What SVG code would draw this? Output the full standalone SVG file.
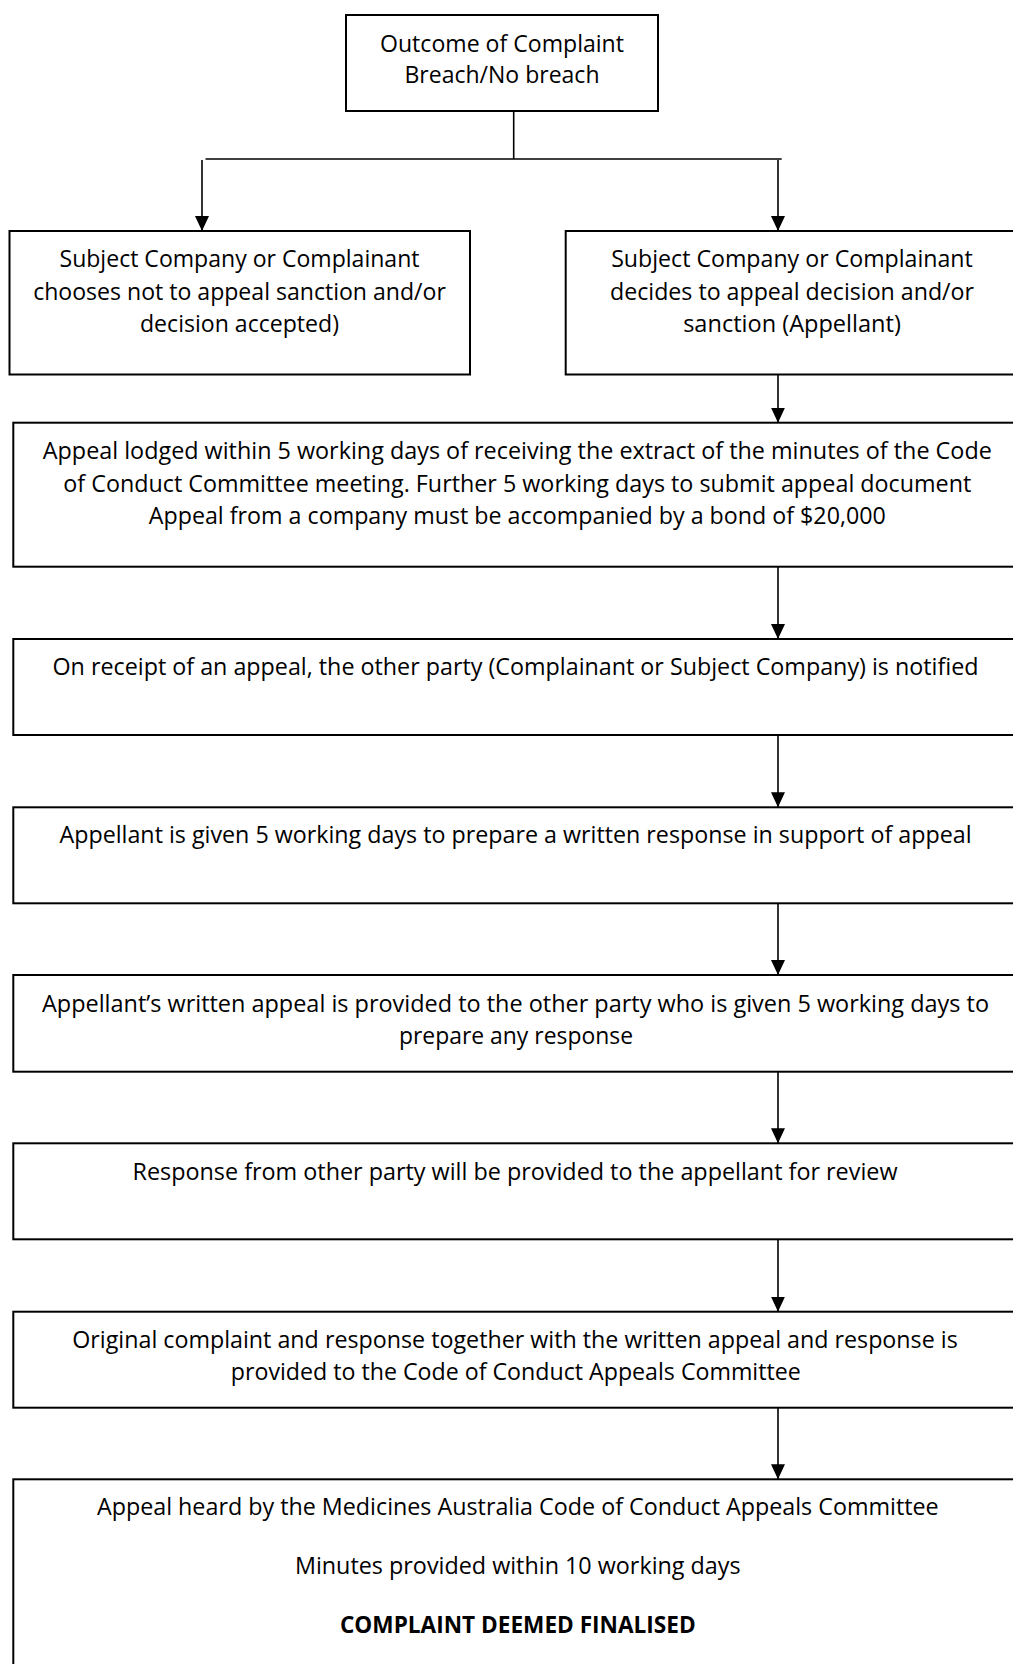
<svg xmlns="http://www.w3.org/2000/svg" width="1013" height="1664" viewBox="0 0 1013 1664">
<style>
  .box { fill: #ffffff; stroke: #000000; stroke-width: 2; }
  .t { font-family: "Open Sans", "Noto Sans", "Liberation Sans", sans-serif; font-size: 23px; fill: #000000; text-anchor: middle; }
  .b { font-weight: bold; }
  .c { stroke: #000000; stroke-width: 1.6; fill: none; }
</style>
<defs>
  <marker id="arr" viewBox="0 0 15 14" refX="15" refY="7" markerWidth="15" markerHeight="14" markerUnits="userSpaceOnUse" orient="auto">
    <path d="M0,0 L15,7 L0,14 Z" fill="#000000"/>
  </marker>
</defs>
<rect width="1013" height="1664" fill="#ffffff"/>

<g id="connectors">
  <line class="c" x1="513.7" y1="110.7" x2="513.7" y2="159"/>
  <line class="c" x1="205.5" y1="159" x2="781.7" y2="159"/>
  <line class="c" x1="202" y1="160" x2="202" y2="231" marker-end="url(#arr)"/>
  <line class="c" x1="778" y1="160" x2="778" y2="231" marker-end="url(#arr)"/>
  <line class="c" x1="778" y1="375" x2="778" y2="422.7" marker-end="url(#arr)"/>
  <line class="c" x1="778" y1="566.7" x2="778" y2="639" marker-end="url(#arr)"/>
  <line class="c" x1="778" y1="735" x2="778" y2="807.3" marker-end="url(#arr)"/>
  <line class="c" x1="778" y1="903.3" x2="778" y2="975" marker-end="url(#arr)"/>
  <line class="c" x1="778" y1="1071.7" x2="778" y2="1143.3" marker-end="url(#arr)"/>
  <line class="c" x1="778" y1="1239.3" x2="778" y2="1311.7" marker-end="url(#arr)"/>
  <line class="c" x1="778" y1="1407.7" x2="778" y2="1479.3" marker-end="url(#arr)"/>
</g>

<g id="outcome">
  <rect class="box" x="346" y="15" width="312" height="96"/>
  <text class="t" x="502" y="51.7" textLength="244" lengthAdjust="spacingAndGlyphs">Outcome of Complaint</text>
  <text class="t" x="502" y="83.3" textLength="195" lengthAdjust="spacingAndGlyphs">Breach/No breach</text>
</g>

<g id="no-appeal">
  <rect class="box" x="9.5" y="231" width="460.5" height="143.5"/>
  <text class="t" x="239.5" y="266.7" textLength="360" lengthAdjust="spacingAndGlyphs">Subject Company or Complainant</text>
  <text class="t" x="239.5" y="299.5" textLength="412.7" lengthAdjust="spacingAndGlyphs">chooses not to appeal sanction and/or</text>
  <text class="t" x="239.5" y="331.7" textLength="199" lengthAdjust="spacingAndGlyphs">decision accepted)</text>
</g>

<g id="appeal">
  <rect class="box" x="565.7" y="231" width="453" height="143.5"/>
  <text class="t" x="792" y="266.7" textLength="361.7" lengthAdjust="spacingAndGlyphs">Subject Company or Complainant</text>
  <text class="t" x="792" y="299.5" textLength="364" lengthAdjust="spacingAndGlyphs">decides to appeal decision and/or</text>
  <text class="t" x="792" y="331.7" textLength="217.7" lengthAdjust="spacingAndGlyphs">sanction (Appellant)</text>
</g>

<g id="lodged">
  <rect class="box" x="13.3" y="422.7" width="1008.4" height="144"/>
  <text class="t" x="517.3" y="459.3" textLength="949" lengthAdjust="spacingAndGlyphs">Appeal lodged within 5 working days of receiving the extract of the minutes of the Code</text>
  <text class="t" x="517.3" y="491.7" textLength="908" lengthAdjust="spacingAndGlyphs">of Conduct Committee meeting. Further 5 working days to submit appeal document</text>
  <text class="t" x="517.3" y="524" textLength="737" lengthAdjust="spacingAndGlyphs">Appeal from a company must be accompanied by a bond of $20,000</text>
</g>

<g id="notified">
  <rect class="box" x="13.3" y="639" width="1008.4" height="96"/>
  <text class="t" x="515.5" y="675" textLength="926" lengthAdjust="spacingAndGlyphs">On receipt of an appeal, the other party (Complainant or Subject Company) is notified</text>
</g>

<g id="prepare">
  <rect class="box" x="13.3" y="807.3" width="1008.4" height="96"/>
  <text class="t" x="515.5" y="842.7" textLength="912" lengthAdjust="spacingAndGlyphs">Appellant is given 5 working days to prepare a written response in support of appeal</text>
</g>

<g id="provided">
  <rect class="box" x="13.3" y="975" width="1008.4" height="96.7"/>
  <text class="t" x="515.5" y="1011.7" textLength="947" lengthAdjust="spacingAndGlyphs">Appellant’s written appeal is provided to the other party who is given 5 working days to</text>
  <text class="t" x="516" y="1044" textLength="234" lengthAdjust="spacingAndGlyphs">prepare any response</text>
</g>

<g id="response">
  <rect class="box" x="13.3" y="1143.3" width="1008.4" height="96"/>
  <text class="t" x="515" y="1180" textLength="765" lengthAdjust="spacingAndGlyphs">Response from other party will be provided to the appellant for review</text>
</g>

<g id="committee">
  <rect class="box" x="13.3" y="1311.7" width="1008.4" height="96"/>
  <text class="t" x="515" y="1347.7" textLength="885.5" lengthAdjust="spacingAndGlyphs">Original complaint and response together with the written appeal and response is</text>
  <text class="t" x="515.8" y="1380" textLength="570" lengthAdjust="spacingAndGlyphs">provided to the Code of Conduct Appeals Committee</text>
</g>

<g id="heard">
  <rect class="box" x="13.3" y="1479.3" width="1008.4" height="200"/>
  <text class="t" x="517.8" y="1515" textLength="841.7" lengthAdjust="spacingAndGlyphs">Appeal heard by the Medicines Australia Code of Conduct Appeals Committee</text>
  <text class="t" x="517.8" y="1574" textLength="445.7" lengthAdjust="spacingAndGlyphs">Minutes provided within 10 working days</text>
  <text class="t b" x="517.8" y="1632.7" textLength="355.7" lengthAdjust="spacingAndGlyphs">COMPLAINT DEEMED FINALISED</text>
</g>
</svg>
